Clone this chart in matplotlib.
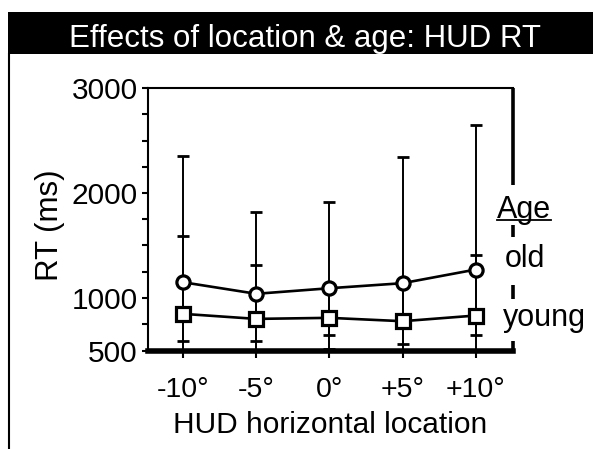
"""HUD RT by horizontal location and age group."""

import numpy as np
import matplotlib
matplotlib.use("Agg")
import matplotlib.pyplot as plt
from matplotlib.patches import Rectangle
from matplotlib.lines import Line2D
from matplotlib.transforms import IdentityTransform

plt.rcParams["font.family"] = ["Liberation Sans", "DejaVu Sans"]

# ── data (ms) ──
locations = np.array([-10, -5, 0, 5, 10])
loc_labels = ["-10°", "-5°", "0°", "+5°", "+10°"]

old_rt = np.array([1150, 1040, 1093, 1141, 1271])
old_hi = np.array([2348, 1817, 1912, 2341, 2643])
old_lo = np.array([589, 589, 643, 560, 643])

young_rt = np.array([849, 801, 811, 779, 833])
young_hi = np.array([1595, 1310, 1080, 1130, 1405])
young_lo = np.array([450, 460, 518, 440, 470])

y_ticks = list(range(500, 3001, 250))
y_labelled = [500, 1000, 2000, 3000]

W, H = 593, 449
fig = plt.figure(figsize=(W / 100, H / 100), dpi=100)

# ── black title bar + panel border ──
fig.add_artist(Rectangle((8 / W, (H - 54) / H), 1 - 8 / W, 42 / H,
                         transform=fig.transFigure, color="black", lw=0))
fig.text(305 / W, (H - 47) / H, "Effects of location & age: HUD RT",
         color="white", fontsize=22.5, ha="center", va="baseline")
fig.add_artist(Line2D([9 / W, 9 / W], [0, (H - 54) / H],
                      transform=fig.transFigure, color="black", lw=1.5))

ax = fig.add_axes([148 / W, (H - 350.5) / H, 365 / W, 262.5 / H])

ax.errorbar(locations, old_rt, yerr=[old_rt - old_lo, old_hi - old_rt],
            fmt="none", ecolor="black", elinewidth=1.4, capsize=4, capthick=2, zorder=2)
ax.errorbar(locations, young_rt, yerr=[young_rt - young_lo, young_hi - young_rt],
            fmt="none", ecolor="black", elinewidth=1.4, capsize=4, capthick=2, zorder=2)
ax.plot(locations, old_rt, marker="o", ms=9.5, mfc="white", mec="black", mew=2.3,
        color="black", lw=1.9, zorder=3)
ax.plot(locations, young_rt, marker="s", ms=9.5, mfc="white", mec="black", mew=2.3,
        color="black", lw=1.9, zorder=3)

ax.set_xlim(-12.4, 12.55)
ax.set_ylim(500, 3000)
ax.set_xticks(locations)
ax.set_xticklabels(loc_labels)
ax.set_yticks(y_ticks)
ax.set_yticklabels([str(v) if v in y_labelled else "" for v in y_ticks])
ax.tick_params(axis="y", direction="out", length=4.3, width=1.5, labelsize=21.5, pad=3)
ax.tick_params(axis="x", direction="out", length=5, width=1.5, labelsize=20.5, pad=14)

ax.set_xlabel("HUD horizontal location", fontsize=21.5, labelpad=6)
ax.set_ylabel("RT (ms)", fontsize=22.5)
ax.yaxis.set_label_coords(-0.227, 0.478)

ax.spines["top"].set_linewidth(1.5)
ax.spines["left"].set_linewidth(1.5)
ax.spines["bottom"].set_linewidth(4)
ax.spines["right"].set_visible(False)
# right frame is broken where the legend words sit
for y0, y1 in [(0, 0.038), (0.198, 0.248), (0.431, 0.477), (0.630, 1.0)]:
    ax.plot([1, 1], [y0, y1], transform=ax.transAxes, color="black", lw=2.6,
            solid_capstyle="butt", clip_on=False)

# ── legend as plain words ──
age_txt = ax.text(0.956, 0.504, "Age", transform=ax.transAxes, fontsize=22, va="baseline")
ax.text(0.978, 0.317, "old", transform=ax.transAxes, fontsize=22, va="baseline")
ax.text(0.973, 0.092, "young", transform=ax.transAxes, fontsize=22, va="baseline")

fig.canvas.draw()
bb = age_txt.get_window_extent()
base_y = ax.transAxes.transform((0.956, 0.504))[1]
fig.add_artist(Line2D([bb.x0, bb.x1], [base_y - 2, base_y - 2],
                      transform=IdentityTransform(), color="black", lw=1.3))

fig.savefig("out.png", dpi=100)
